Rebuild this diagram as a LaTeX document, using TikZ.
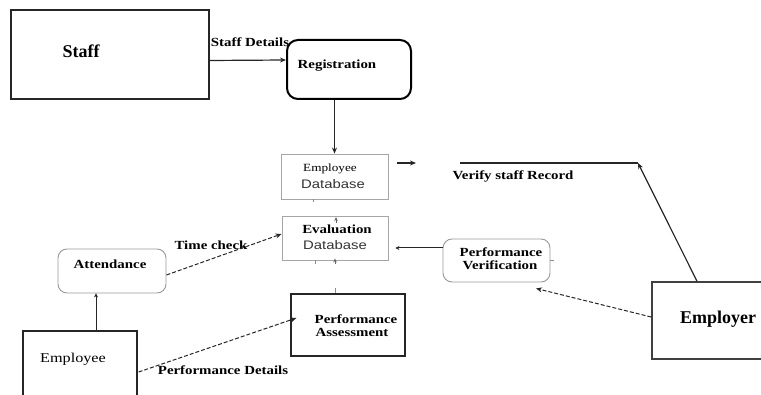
\documentclass[tikz,border=0pt]{standalone}
\usepackage{fontspec}
\setmainfont{Liberation Serif}[FakeStretch=1.2]
\setsansfont{Liberation Sans}[FakeStretch=1.2]
\newfontfamily\plainserif{Liberation Serif}
\usetikzlibrary{arrows.meta}

\tikzset{
  solidbox/.style={draw=black!85, line width=1.2pt, inner sep=0pt},
  regbox/.style={draw=black, line width=2pt, rounded corners=11pt, inner sep=0pt},
  dbbox/.style={draw=black!35, line width=0.9pt, inner sep=0pt},
  softbox/.style={draw=black!40, line width=0.9pt, rounded corners=9pt, inner sep=0pt},
  txt/.style={inner sep=0pt, font=\bfseries\fontsize{12.4}{13}\selectfont},
  bigtxt/.style={inner sep=0pt, font=\plainserif\bfseries\fontsize{18}{19}\selectfont},
  plaintxt/.style={inner sep=0pt, font=\fontsize{11}{12}\selectfont},
  sanstxt/.style={inner sep=0pt, text=black!80, font=\sffamily\fontsize{12.4}{13}\selectfont},
  arr/.style={-{Stealth[length=6pt,width=5pt]}, line width=1pt, draw=black!85},
  dasharr/.style={arr, dash pattern=on 4pt off 2pt},
  stub/.style={draw=black!45, line width=0.8pt},
  tinyarr/.style={-{Stealth[length=4pt,width=3.5pt]}, line width=0.8pt, draw=black!60},
}

\begin{document}
\begin{tikzpicture}[x=1pt,y=-1pt]
\useasboundingbox (0,0) rectangle (761,395);

% boxes
\node[solidbox, minimum width=198pt, minimum height=89pt] (staff) at (110,54.5) {};
\node[regbox, minimum width=124pt, minimum height=59pt] (reg) at (349,69.5) {};
\node[dbbox, minimum width=107pt, minimum height=45pt] (empdb) at (334.5,176.5) {};
\node[dbbox, minimum width=106pt, minimum height=44pt] (evaldb) at (335,238) {};
\node[softbox, minimum width=107pt, minimum height=43pt] (pv) at (496.5,260.5) {};
\node[softbox, minimum width=108pt, minimum height=44pt] (att) at (112,271) {};
\node[solidbox, minimum width=114pt, minimum height=69pt] (emp) at (80,365.5) {};
\node[solidbox, minimum width=114pt, minimum height=62pt] (pa) at (348,325) {};
\node[solidbox, draw=black!75, line width=1.6pt, minimum width=114pt, minimum height=77pt] (employer) at (709,320.5) {};

% box texts
\node[bigtxt] (staffT) at (81,51) {Staff};
\node[txt] (regT) at (337,66) {Registration};
\node[plaintxt] (empdbT1) at (330,169) {Employee};
\node[sanstxt] (empdbT2) at (333,184) {Database};
\node[txt] (evalT1) at (337,229) {Evaluation};
\node[sanstxt] (evalT2) at (335,245) {Database};
\node[txt] (pvT1) at (501,252) {Performance};
\node[txt] (pvT2) at (500,265) {Verification};
\node[txt] (attT) at (110,264) {Attendance};
\node[plaintxt, font=\fontsize{13.5}{14}\selectfont] (empT) at (73,359) {Employee};
\node[txt] (paT1) at (356,319) {Performance};
\node[txt] (paT2) at (352,332) {Assessment};
\node[bigtxt] (employerT) at (718,319) {Employer};

% connector labels
\node[txt] (lblStaff) at (250,42) {Staff Details};
\node[txt] (lblTime) at (211,245) {Time check};
\node[txt] (lblVerify) at (513,176) {Verify staff Record};
\node[txt] (lblPerf) at (223,370) {Performance Details};

% connectors
\draw[arr, line width=1.2pt] ([yshift=-6pt]staff.east) -- ([yshift=9.5pt]reg.west);
\draw[arr, line width=1.6pt] (reg.south -| empdb.north) -- (empdb.north);

\coordinate (vs) at (397,163);
\coordinate (ve) at (416,163);
\coordinate (vleft) at (460,163);
\coordinate (vcorner) at (638,163);
\draw[arr, line width=2pt] (vs) -- (ve);
\draw[line width=1.1pt, draw=black!85] (vleft) -- (vcorner);
\draw[arr, line width=1.2pt] ([xshift=-12pt]employer.north) -- (vcorner);

\draw[dasharr] ([yshift=3.5pt]employer.west) -- ([xshift=39.5pt,yshift=-6pt]pv.south);
\draw[arr, -{Stealth[length=4pt,width=4pt]}] ([yshift=12.5pt]pv.west) -- ([xshift=7pt,yshift=-10pt]evaldb.east);
\draw[dasharr] ([yshift=-4pt]att.east) -- ([yshift=4pt]evaldb.west);
\draw[arr, line width=0.9pt, -{Stealth[length=4pt,width=4pt]}] ([xshift=16pt]emp.north) -- ([xshift=-16pt]att.south);
\draw[dasharr] ([xshift=1pt,yshift=-6.5pt]emp.east) -- ([xshift=6pt,yshift=7pt]pa.west);

% short stubs between the database boxes
\draw[stub] ([xshift=-21.5pt]empdb.south) -- ++(0,3);
\draw[tinyarr] ([xshift=1pt,yshift=-7pt]evaldb.north) -- ([xshift=1pt,yshift=-1.5pt]evaldb.north);
\draw[stub] ([xshift=-20pt]evaldb.south) -- ++(0,4);
\draw[tinyarr] ([yshift=-4pt]evaldb.south) -- ([yshift=2pt]evaldb.south);
\draw[stub] ([xshift=-13pt]pa.north) -- ++(0,-5);
\draw[stub] (pv.east) -- ++(4,0);
\end{tikzpicture}
\end{document}
